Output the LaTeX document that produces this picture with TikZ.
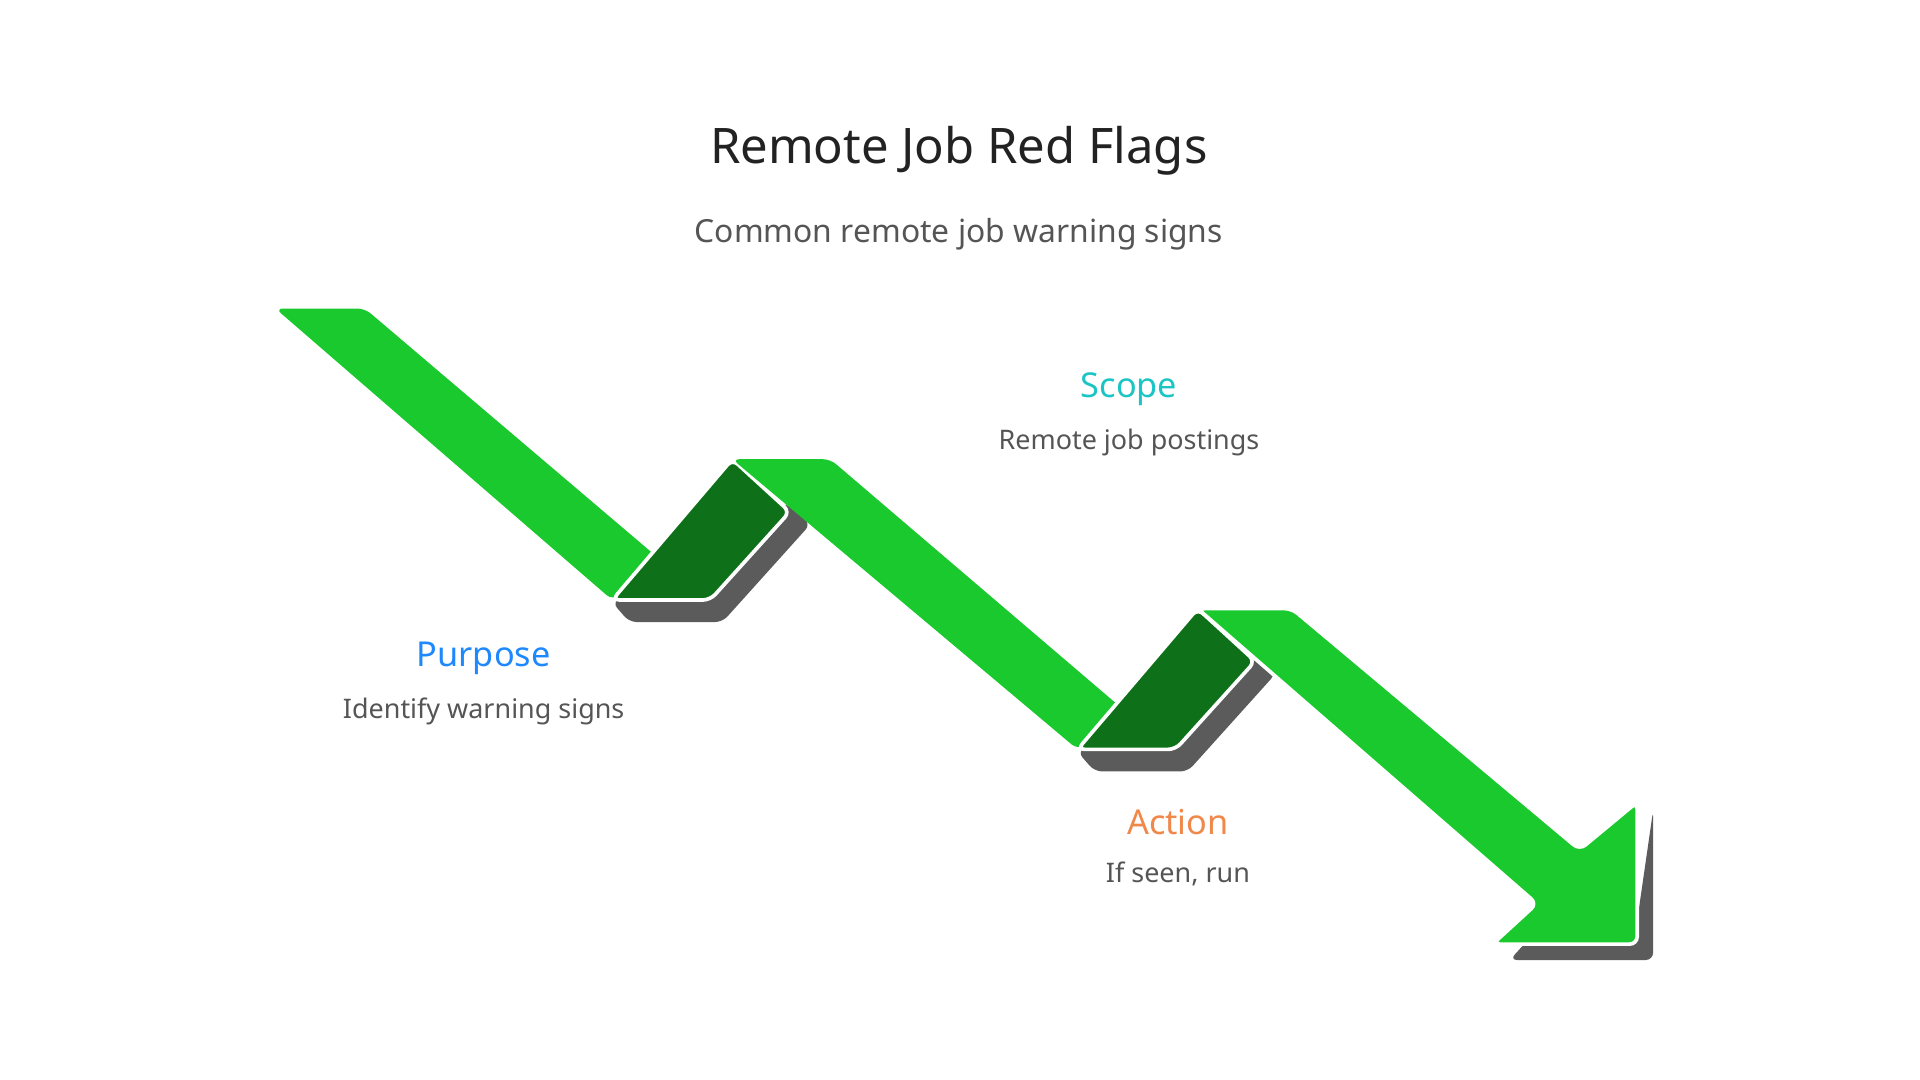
\documentclass[tikz,border=0pt]{standalone}
\usepackage{fontspec}
\setmainfont{Noto Sans}
\begin{document}
\begin{tikzpicture}[x=0.5pt,y=-0.5pt,
  seg/.style={fill=cGreen, rounded corners=3pt},
  fold/.style={fill=cDark, draw=white, line width=1.5pt, rounded corners=3pt},
  shad/.style={fill=cGrey, rounded corners=3pt},
  ttl/.style={font=\fontsize{20}{24}\selectfont, text=cTitle},
  sub/.style={font=\fontsize{13}{16}\selectfont, text=cText},
  head/.style={font=\bfseries\fontsize{14}{17}\selectfont},
  desc/.style={font=\fontsize{11}{14}\selectfont, text=cText}]
\definecolor{cGreen}{HTML}{19C92D}
\definecolor{cDark}{HTML}{0E7119}
\definecolor{cGrey}{HTML}{5B5B5B}
\definecolor{cTitle}{HTML}{222222}
\definecolor{cText}{HTML}{555555}
\definecolor{cTeal}{HTML}{1CC5C5}
\definecolor{cBlue}{HTML}{1E88FF}
\definecolor{cOrange}{HTML}{F0884A}
\path[use as bounding box] (0,0) rectangle (1568,882);
% segment 1
\fill[seg] (225,252) -- (298,252) -- (545,462) -- (500,490) -- cycle;
% fold 1
\fill[shad] (500,492) -- (514,508) -- (590,508) -- (662,428) -- (640,410) -- cycle;
\draw[fold] (500,490) -- (580,490) -- (645,418) -- (598,375) -- cycle;
% segment 2
\fill[seg] (598,375) -- (678,375) -- (925,586) -- (880,612) -- cycle;
% fold 2
\fill[shad] (880,614) -- (894,630) -- (970,630) -- (1042,550) -- (1020,532) -- cycle;
\draw[fold] (880,612) -- (960,612) -- (1025,540) -- (978,497) -- cycle;
% segment 3 with arrow head
\fill[shad] (1350,662) -- (1350,784) -- (1233,784) -- (1262,752) -- (1337,752) -- cycle;
\filldraw[seg, draw=white, line width=1.5pt] (978,497) -- (1055,497) -- (1290,694) -- (1337,655) -- (1337,771) -- (1219,771) -- (1255,738) -- cycle;
% texts
\node[ttl] (title) at (783,123) {Remote Job Red Flags};
\node[sub] (subtitle) at (783,191) {Common remote job warning signs};
\node[head, text=cTeal] (scope) at (922,318) {Scope};
\node[desc] (scoped) at (922,361) {Remote job postings};
\node[head, text=cBlue] (purpose) at (395,538) {Purpose};
\node[desc] (purposed) at (395,581) {Identify warning signs};
\node[head, text=cOrange] (action) at (962,671) {Action};
\node[desc] (actiond) at (962,714) {If seen, run};
\end{tikzpicture}
\end{document}
